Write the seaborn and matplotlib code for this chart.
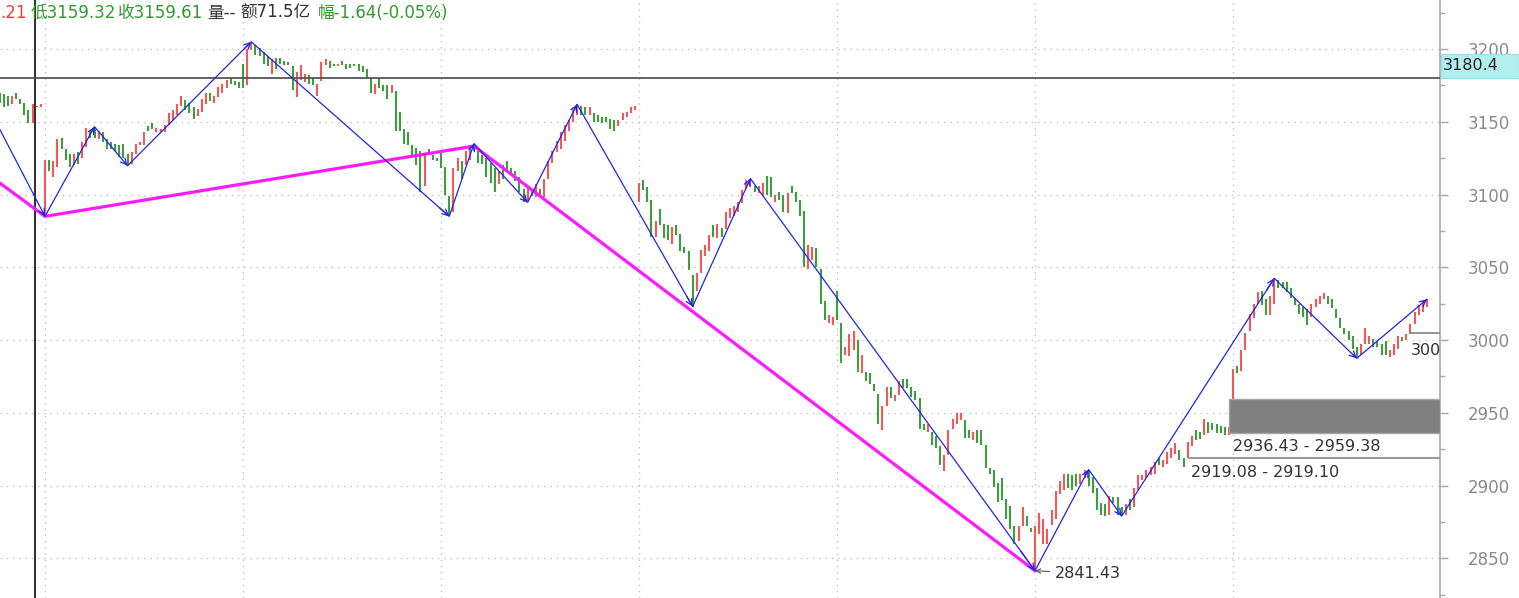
import numpy as np
import pandas as pd
import matplotlib
matplotlib.use("Agg")
import matplotlib.pyplot as plt
import matplotlib.transforms as mtransforms
from matplotlib.patches import Rectangle
import seaborn as sns

# ---------------- data (5-minute bars, 48 per session) ----------------
pre_hi = [3170, 3169, 3168, 3168, 3170, 3166, 3163, 3158, 3162, 3161, 3162]
pre_lo = [3163, 3160, 3161, 3162, 3166, 3162, 3155, 3149, 3149, 3160, 3160]
pre_dir = "gggrggggrrr"

d0_hi = [3124, 3124, 3123, 3138, 3139, 3131, 3128, 3128, 3129, 3136,
         3146, 3144, 3146.6, 3144, 3143, 3138, 3136, 3135, 3134, 3135,
         3128, 3129, 3135, 3136, 3143, 3147, 3149, 3146, 3145, 3148,
         3156, 3158, 3162, 3168, 3165, 3163, 3160, 3159, 3166, 3170,
         3170, 3168, 3174, 3176, 3179, 3180, 3178, 3177]
d0_lo = [3085, 3116, 3112, 3119, 3131, 3124, 3119, 3120, 3121, 3125,
         3133, 3139, 3139, 3138, 3136, 3131, 3131, 3130, 3126, 3125,
         3119.8, 3121, 3128, 3134, 3134, 3144, 3145, 3143, 3143, 3143,
         3148, 3151, 3155, 3161, 3158, 3156, 3152, 3154, 3157, 3162,
         3164, 3163, 3167, 3170, 3173, 3176, 3175, 3173]
d0_dir = "rgrrgggrgr" "rggrgggggg" "grrrrggrrr" "rrrrgggrrr" "grrrrggg"

d1_hi = [3190, 3200, 3205, 3203, 3201, 3198, 3195, 3193, 3194, 3194,
         3192, 3191, 3188, 3184, 3189, 3183, 3182, 3180, 3176, 3191,
         3193, 3192, 3190, 3190, 3192, 3190, 3190, 3190, 3190, 3188,
         3186, 3180, 3176, 3180, 3175, 3175, 3175, 3171, 3157, 3145,
         3143, 3134, 3132, 3130, 3127, 3131, 3127, 3125]
d1_lo = [3173, 3175, 3199, 3196, 3195, 3190, 3188, 3183, 3186, 3190,
         3189, 3189, 3172, 3167, 3179, 3177, 3176, 3175, 3168, 3178,
         3189, 3187, 3188, 3188, 3189, 3186, 3187, 3188, 3185, 3184,
         3180, 3170, 3169, 3173, 3171, 3166, 3170, 3144, 3144, 3135,
         3134, 3125, 3120, 3102, 3106, 3127, 3124, 3123]
d1_dir = "grrggggrgg" "gggrrrggrr" "rggrgggggg" "ggrgggrggg" "ggggrggg"

d2_hi = [3130, 3119, 3099, 3118, 3125, 3123, 3130, 3134, 3135, 3130,
         3127, 3125, 3122, 3118, 3116, 3120, 3123, 3118, 3116, 3112,
         3104, 3106, 3104, 3107, 3104, 3111, 3123, 3130, 3137, 3143,
         3148, 3151, 3159, 3162, 3161, 3160, 3160, 3156, 3155, 3153,
         3153, 3152, 3151, 3151, 3156, 3157, 3160, 3161]
d2_lo = [3118, 3100, 3085, 3088, 3116, 3111, 3120, 3124, 3130, 3122,
         3121, 3112, 3108, 3102, 3107, 3111, 3117, 3114, 3109, 3102,
         3095, 3094.6, 3099, 3098, 3098, 3098, 3111, 3122, 3129, 3131,
         3137, 3144, 3150, 3155, 3155, 3155, 3155, 3150, 3150, 3149,
         3150, 3145, 3144, 3147, 3151, 3153, 3156, 3158]
d2_dir = "gggrrgrrgg" "ggggrggggg" "grgrgrrrrr" "rrrrggrggg" "gggrrrrr"

d3_hi = [3108, 3110, 3105, 3096, 3082, 3090, 3080, 3079, 3078, 3079,
         3073, 3064, 3061, 3045, 3046, 3062, 3065, 3072, 3079, 3080,
         3077, 3088, 3091, 3092, 3095, 3103, 3110, 3111, 3106, 3106,
         3108, 3113, 3112, 3100, 3102, 3100, 3101, 3106, 3102, 3096,
         3089, 3065, 3064, 3063, 3049, 3027, 3017, 3016]
d3_lo = [3095, 3103, 3095, 3071, 3071, 3079, 3070, 3069, 3066, 3072,
         3061, 3060, 3048, 3023, 3034, 3046, 3058, 3061, 3071, 3070,
         3071, 3076, 3084, 3085, 3088, 3094, 3104, 3106, 3102, 3101,
         3100, 3100, 3098, 3095, 3096, 3088, 3087, 3101, 3095, 3085,
         3050, 3049, 3055, 3050, 3025, 3014, 3012, 3010]
d3_dir = "rgggrgggrg" "ggggrrrrgr" "grrrrrrrgr" "rggrggrggg" "grrgggrr"

d4_hi = [3034, 3012, 2995, 3004, 3006, 3000, 2990, 2978, 2977, 2970,
         2963, 2955, 2968, 2968, 2962, 2972, 2973, 2973, 2968, 2965,
         2960, 2942, 2942, 2937, 2934, 2927, 2921, 2938, 2946, 2950,
         2950, 2945, 2938, 2937, 2938, 2938, 2928, 2912, 2911, 2902,
         2905, 2891, 2886, 2872, 2872, 2885, 2879, 2871]
d4_lo = [3014, 2984, 2990, 2989, 2993, 2978, 2977, 2972, 2970, 2965,
         2942, 2938, 2955, 2960, 2958, 2962, 2967, 2967, 2961, 2959,
         2939, 2938, 2937, 2928, 2926, 2914, 2910, 2921, 2939, 2942,
         2945, 2933, 2933, 2931, 2929, 2928, 2912, 2908, 2899, 2889,
         2890, 2877, 2870, 2860, 2862, 2872, 2872, 2868]
d4_dir = "ggrrrgrggg" "grrgrrgggg" "ggrgggrrrr" "rggrgggggg" "ggggrrgg"

d5_hi = [2872, 2881, 2877, 2870, 2883, 2896, 2903, 2908, 2908, 2907,
         2908, 2908, 2911, 2911, 2906, 2898, 2888, 2887, 2893, 2892,
         2892, 2885, 2887, 2891, 2898, 2907, 2907, 2911, 2913, 2916.5,
         2918.7, 2917.6, 2923, 2925.6, 2929, 2924.4, 2919.08, 2930, 2934, 2938,
         2937, 2946, 2944, 2943, 2942, 2941, 2940, 2940]
d5_lo = [2841.43, 2867, 2860, 2860, 2873, 2877, 2894, 2897, 2898, 2897,
         2900, 2901, 2905, 2900, 2895, 2883, 2880, 2879, 2880, 2888,
         2880, 2879, 2880, 2883, 2885, 2897, 2904, 2905, 2907, 2908,
         2914, 2913, 2915, 2918.7, 2922, 2917.6, 2913, 2919.1, 2927, 2931,
         2932, 2935, 2936, 2938, 2936, 2936, 2935, 2935]
d5_dir = "rrrrrrrrgg" "grrgggggrg" "ggrgrrrrrr" "grrrrggrrg" "grgggggr"

d6_hi = [2980, 2982, 2993, 3005, 3018, 3025, 3033, 3034, 3028, 3030,
         3042.4, 3041, 3040, 3040, 3036, 3029, 3025, 3023, 3021, 3025,
         3028, 3030, 3032, 3030, 3028, 3021, 3015, 3008, 3006, 3003,
         2995, 2997, 3008, 3003, 3001, 2999, 2997, 2999, 2993, 2997,
         3003, 3002, 3004, 3011, 3019, 3024, 3027, 3028]
d6_lo = [2959.38, 2977, 2979, 2993, 3006, 3015, 3025, 3024, 3017, 3017,
         3025, 3036, 3036, 3033, 3029, 3024, 3018, 3016, 3010, 3016,
         3023, 3025, 3028, 3025, 3022, 3015, 3008, 3004, 3000, 2994,
         2987.4, 2990, 2997, 2997, 2995, 2995, 2990, 2990, 2988, 2990,
         2994, 2999, 3000, 3004, 3011, 3017, 3019, 3023]
d6_dir = "rgrrrrrggr" "rggggggggr" "rrrggggggg" "grrrggggrr" "rgrrrrrr"

# zigzag pivots (bar index, price)
blue_idx = [0, 11, 23, 31, 61, 109, 115, 128, 140, 168, 182, 251, 264, 272, 309, 329, 346]
blue_val = [3145, 3085, 3146.6, 3119.8, 3205, 3085, 3135, 3094.6, 3162, 3023, 3111,
            2841.43, 2911, 2879, 3042.4, 2987.4, 3028]
mag_idx = [0, 11, 115, 251]
mag_val = [3108, 3085, 3133.3, 2841.43]

# gaps: (start bar index, low, high)
gap_box = (298, 2936.43, 2959.38)
gap_line1 = (288, 2919.08, 2919.10)
gap_line2 = (342, 3004.77)
gap_line2_text = "300"   # the visible (clipped) part of its label

low_label = (251, 2841.43)
cursor_idx = 8.6
cursor_price = 3180.4

header = [(".21", "r"), ("低3159.32", "g"), ("收3159.61", "g"),
          ("量--", "k"), ("额71.5亿", "k"), ("幅-1.64(-0.05%)", "g")]
header_px = [0, 31, 118, 207, 240, 318]

# ---------------- build ----------------
his = pre_hi + d0_hi + d1_hi + d2_hi + d3_hi + d4_hi + d5_hi + d6_hi
los = pre_lo + d0_lo + d1_lo + d2_lo + d3_lo + d4_lo + d5_lo + d6_lo
dirs = pre_dir + d0_dir + d1_dir + d2_dir + d3_dir + d4_dir + d5_dir + d6_dir
bars = pd.DataFrame({"hi": his, "lo": los, "dir": list(dirs)})
bars["idx"] = np.arange(len(bars))

n_pre = len(pre_hi)
day_starts = [n_pre + 48 * d for d in range(7)]

RED = "#f25858"
GREEN = "#3e9e3e"
BLUE = "#2222ee"
MAG = "#ff1aff"

sns.set_theme(style="white")
plt.rcParams["font.family"] = ["DejaVu Sans", "Noto Sans CJK SC"]

W, H = 1519, 598
fig = plt.figure(figsize=(W / 100, H / 100), dpi=100, facecolor="white")
ax_right_px = 1440
ax = fig.add_axes([0, 0, ax_right_px / W, 1])
ax.set_facecolor("white")

bar_px = 4.125
first_px = 45
xmin = n_pre - first_px / bar_px
xmax = n_pre + (ax_right_px - first_px) / bar_px
ax.set_xlim(xmin, xmax)
ax.set_ylim(2822.7, 3233.7)

# grid
ax.set_axisbelow(True)
ax.set_xticks(day_starts)
ax.set_yticks(np.arange(2850, 3201, 50))
ax.set_yticks(np.arange(2825, 3230, 50), minor=True)
ax.grid(True, which="major", axis="both", color="#c4c4c4", linestyle=(0, (1, 3.5)), lw=1)
ax.tick_params(axis="x", length=0, labelbottom=False)
ax.yaxis.tick_right()
ax.tick_params(axis="y", which="major", direction="out", length=6, width=1,
               color="#a8a8a8", pad=14, labelsize=12, labelcolor="#8a8a8a")
ax.tick_params(axis="y", which="minor", direction="out", length=3.5, width=1, color="#a8a8a8")
for s in ["left", "top", "bottom"]:
    ax.spines[s].set_visible(False)
ax.spines["right"].set_color("#a8a8a8")
ax.spines["right"].set_linewidth(1.2)

# bars
cols = bars["dir"].map({"r": RED, "g": GREEN})
ax.vlines(bars["idx"], bars["lo"], bars["hi"], colors=cols, lw=1.5, zorder=3)

# cursor lines
ax.axvline(cursor_idx, color="#333333", lw=1.5, zorder=4)
ax.axhline(cursor_price, color="#555555", lw=1.3, zorder=4)

# zigzag lines
mag_df = pd.DataFrame({"idx": mag_idx, "price": mag_val})
blue_df = pd.DataFrame({"idx": blue_idx, "price": blue_val})
sns.lineplot(data=mag_df, x="idx", y="price", sort=False, estimator=None,
             color=MAG, lw=2.3, ax=ax, zorder=5)
sns.lineplot(data=blue_df, x="idx", y="price", sort=False, estimator=None,
             color=BLUE, lw=0.9, ax=ax, zorder=6)
for i in range(1, len(blue_idx)):
    x0, y0 = blue_idx[i - 1], blue_val[i - 1]
    x1, y1 = blue_idx[i], blue_val[i]
    ax.annotate("", xy=(x1, y1), xytext=(x1 - 0.05 * (x1 - x0), y1 - 0.05 * (y1 - y0)),
                arrowprops=dict(arrowstyle="->", color=BLUE, lw=0.9, mutation_scale=11,
                                shrinkA=0, shrinkB=0), zorder=6)
ax.set_xlabel("")
ax.set_ylabel("")

# gap box and lines
gx, glo, ghi = gap_box
ax.add_patch(Rectangle((gx, glo), xmax - gx, ghi - glo, facecolor="#808080",
                       edgecolor="#a5a5a5", lw=1, zorder=7))
ax.annotate(f"{glo:.2f} - {ghi:.2f}", xy=(gx, glo), xytext=(3, -4.5),
            textcoords="offset points", ha="left", va="top", fontsize=11.5,
            color="#333333", zorder=8)
lx, llo, lhi = gap_line1
ax.hlines(llo, lx, xmax, color="#9a9a9a", lw=1.5, zorder=7)
ax.annotate(f"{llo:.2f} - {lhi:.2f}", xy=(lx, llo), xytext=(2.5, -5.5),
            textcoords="offset points", ha="left", va="top", fontsize=11.5,
            color="#333333", zorder=8)
lx2, lv2 = gap_line2
ax.hlines(lv2, lx2, xmax, color="#8a8a8a", lw=1.3, zorder=7)
ax.annotate(gap_line2_text, xy=(lx2, lv2), xytext=(0, -7),
            textcoords="offset points", ha="left", va="top", fontsize=11.5,
            color="#333333", zorder=8)

# low label
ax.annotate(f"{low_label[1]:.2f}", xy=low_label, xytext=(14, -2), textcoords="offset points",
            ha="left", va="center", fontsize=11.5, color="#333333",
            arrowprops=dict(arrowstyle="->", color="#555555", lw=0.8, shrinkA=1, shrinkB=0,
                            mutation_scale=8), zorder=8)

# current price label box on the axis
trans = mtransforms.blended_transform_factory(ax.transAxes, ax.transData)
ax.add_patch(Rectangle((1.0005, cursor_price), W / ax_right_px - 1.0005, 16.5,
                       transform=trans, facecolor="#b2eeee", edgecolor="#9adede",
                       lw=0.8, clip_on=False, zorder=10))
ax.text(1.002, cursor_price + 8.2, f"{cursor_price:.1f}", transform=trans,
        ha="left", va="center", fontsize=11.5, color="#222222", zorder=11, clip_on=False)

# header text
hcol = {"r": "#e8403c", "g": "#2f9a2f", "k": "#333333"}
for (s, c), px in zip(header, header_px):
    fig.text(px / W, 1 - 13 / H, s, ha="left", va="center", fontsize=12, color=hcol[c])

fig.savefig("out.png", dpi=100, facecolor="white")
